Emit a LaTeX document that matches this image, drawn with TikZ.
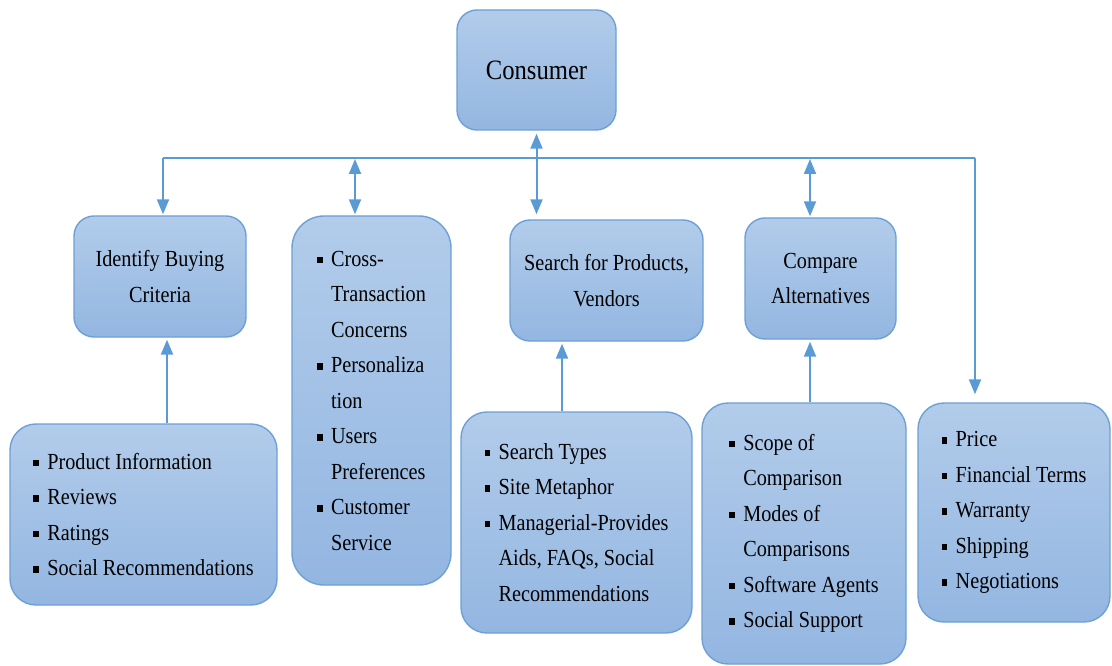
\documentclass[tikz,border=0pt]{standalone}
\usepackage{fontspec}
\setmainfont[FakeStretch=0.88]{Liberation Serif}
\usetikzlibrary{arrows.meta}
\definecolor{topc}{HTML}{B2CCEA}
\definecolor{botc}{HTML}{93B6E1}
\definecolor{bordc}{HTML}{6CA0D6}
\definecolor{arrc}{HTML}{5B9BD5}
\newcommand\bul{\makebox[14pt][l]{\rule[3pt]{5.5pt}{6.5pt}}}
\newcommand\ind{\hspace*{14pt}}
\tikzset{
  box/.style={draw=bordc, line width=1.4pt, rounded corners=20pt,
    top color=topc, bottom color=botc, inner sep=0pt, align=center,
    font=\fontsize{23}{35.5}\selectfont},
  listbox/.style={box, align=left, rounded corners=26pt},
  conn/.style={draw=arrc, line width=2pt},
  tip/.style={-{Triangle[length=15pt,width=12pt]}},
  dtip/.style={{Triangle[length=15pt,width=12pt]}-{Triangle[length=15pt,width=12pt]}}
}
\begin{document}
\begin{tikzpicture}[x=1pt,y=-1pt]
\useasboundingbox (0,0) rectangle (1112,666);
% nodes
\node[box, minimum width=159pt, minimum height=120pt, font=\fontsize{28}{34}\selectfont] (cons) at (536.5,70) {Consumer};
\node[box, minimum width=172pt, minimum height=121pt] (ident) at (160,276.5) {Identify Buying\\Criteria};
\node[listbox, minimum width=159pt, minimum height=369pt, rounded corners=32pt] (cross) at (371.5,400.5)
  {\bul Cross-\\\ind Transaction\\\ind Concerns\\\bul Personaliza\\\ind tion\\\bul Users\\\ind Preferences\\\bul Customer\\\ind Service};
\node[box, minimum width=193pt, minimum height=121pt] (search) at (606.5,280.5) {Search for Products,\\Vendors};
\node[box, minimum width=151pt, minimum height=121pt] (comp) at (820.5,278.5) {Compare\\Alternatives};
\node[listbox, minimum width=267pt, minimum height=181pt] (prod) at (143.5,514.5)
  {\bul Product Information\\\bul Reviews\\\bul Ratings\\\bul Social Recommendations};
\node[listbox, minimum width=231pt, minimum height=221pt] (stypes) at (576.5,522.5)
  {\bul Search Types\\\bul Site Metaphor\\\bul Managerial-Provides\\\ind Aids, FAQs, Social\\\ind Recommendations};
\node[listbox, minimum width=204pt, minimum height=261pt] (scope) at (804,533.5)
  {\bul Scope of\\\ind Comparison\\\bul Modes of\\\ind Comparisons\\\bul Software Agents\\\bul Social Support};
\node[listbox, minimum width=192pt, minimum height=219pt] (price) at (1014,512.5)
  {\bul Price\\\bul Financial Terms\\\bul Warranty\\\bul Shipping\\\bul Negotiations};
% bus
\coordinate (busL) at (163,158);
\coordinate (busR) at (975,158);
\coordinate (b2) at (355,159);
\coordinate (b4) at (810,159);
\draw[conn, line width=2.6pt] (busL) -- (busR);
% connectors
\draw[conn, dtip, shorten <=3pt, shorten >=5pt] (cons.south) -- (cons.south |- search.north);
\draw[conn, tip, shorten >=1pt] (busL) -- (busL |- ident.north);
\draw[conn, dtip, shorten >=1pt] (b2) -- (b2 |- cross.north);
\draw[conn, dtip, shorten >=1pt] (b4) -- (b4 |- comp.north);
\draw[conn, tip, shorten >=8pt] (busR) -- (busR |- price.north);
\draw[conn, tip, shorten >=2pt] ([xshift=23.5pt]prod.north) -- ([xshift=23.5pt]prod.north |- ident.south);
\draw[conn, tip, shorten >=2pt] ([xshift=-14.5pt]stypes.north) -- ([xshift=-14.5pt]stypes.north |- search.south);
\draw[conn, tip, shorten >=2pt] ([xshift=6pt]scope.north) -- ([xshift=6pt]scope.north |- comp.south);
\end{tikzpicture}
\end{document}
